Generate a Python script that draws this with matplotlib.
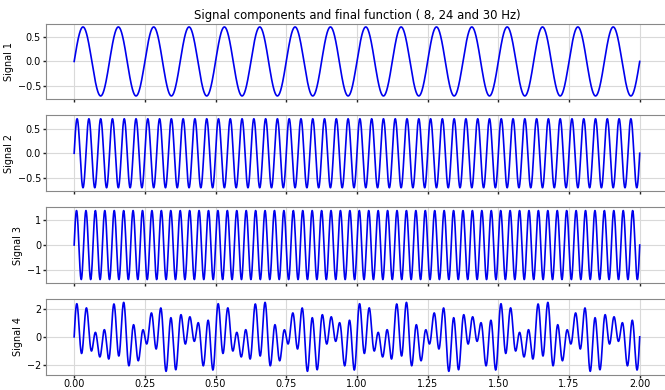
import numpy as np
import matplotlib
matplotlib.use("Agg")
import matplotlib.pyplot as plt

freqs = [8, 24, 30]
amps = [0.7, 0.7, 1.4]
labels = ["Signal 1", "Signal 2", "Signal 3", "Signal 4"]
xticks = [0.0, 0.25, 0.5, 0.75, 1.0, 1.25, 1.5, 1.75, 2.0]
yticks = [[-0.5, 0.0, 0.5], [-0.5, 0.0, 0.5], [-1, 0, 1], [-2, 0, 2]]

t = np.linspace(0, 2, 4001)
signals = [a * np.sin(2 * np.pi * f * t) for f, a in zip(freqs, amps)]
signals.append(signals[0] + signals[1] + signals[2])

fig, axes = plt.subplots(4, 1, sharex=True, figsize=(6.65, 3.9), dpi=100)
fig.subplots_adjust(left=0.069, right=1.0045, top=0.9397, bottom=0.039, hspace=0.21)

for i, ax in enumerate(axes):
    ax.plot(t, signals[i], color="#0000ee", linewidth=1.2)
    ax.set_ylabel(labels[i], fontsize=6.9, labelpad=2.5)
    ax.set_yticks(yticks[i])
    ax.set_xticks(xticks)
    ax.grid(True, color="#d9d9d9", linewidth=0.8)
    ax.set_axisbelow(True)
    for side in ["top", "bottom", "left", "right"]:
        ax.spines[side].set_color("#888888")
    ax.tick_params(axis="y", length=2, width=1, color="#222222", labelsize=6.9, pad=1.5)
    ax.tick_params(axis="x", length=2, width=1, color="#222222", labelsize=6.9, pad=1)

axes[-1].set_xticklabels(["0.00", "0.25", "0.50", "0.75", "1.00", "1.25", "1.50", "1.75", "2.00"])
axes[0].set_title("Signal components and final function ( 8, 24 and 30 Hz)", fontsize=8.4, pad=3)

fig.savefig("out.png", dpi=100)
